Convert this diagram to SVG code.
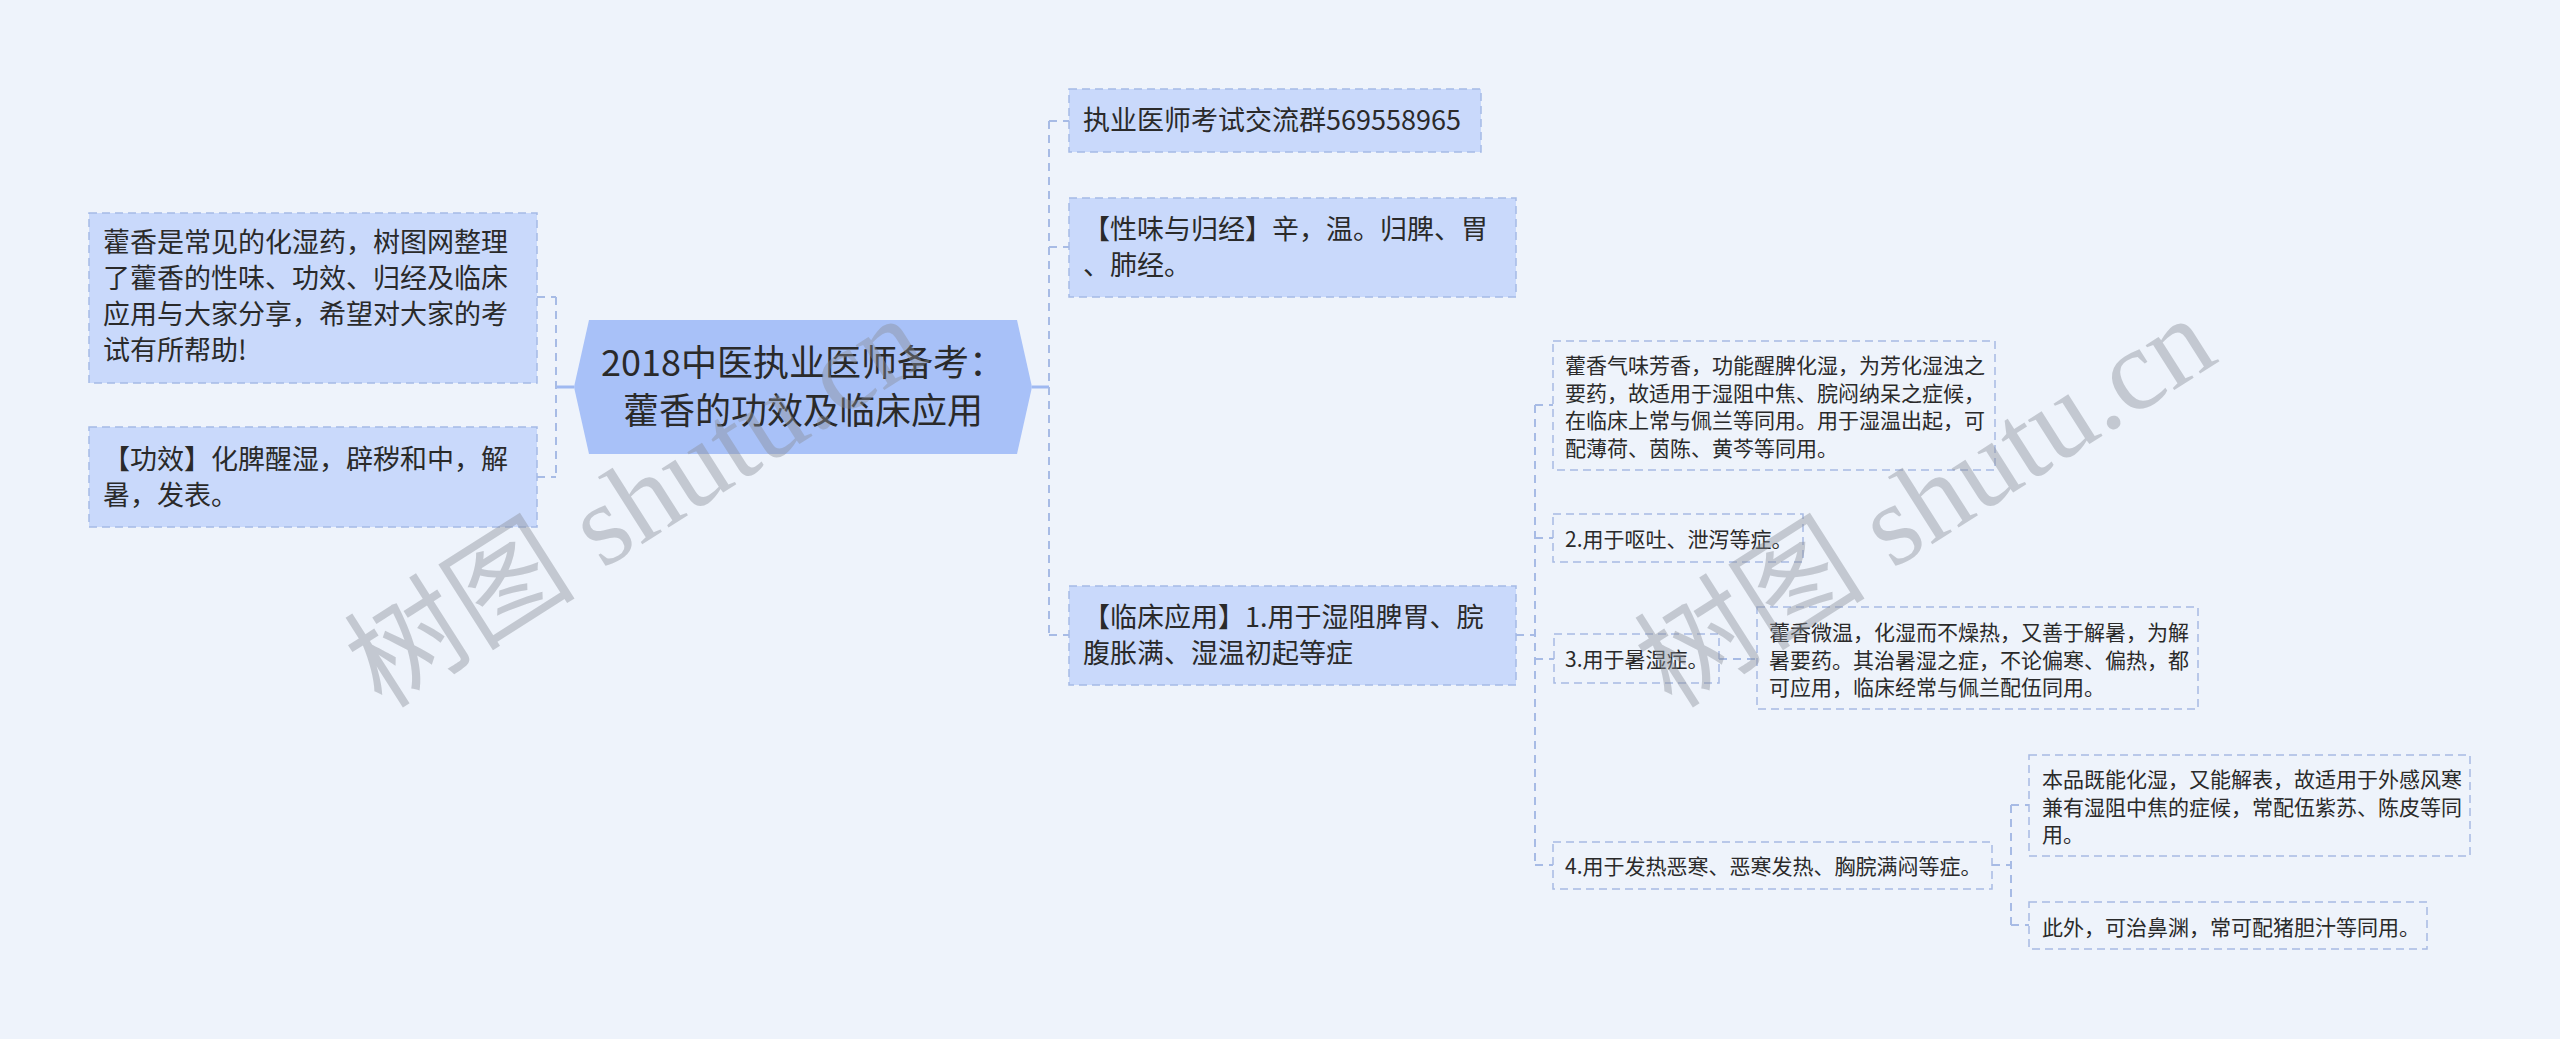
<svg xmlns="http://www.w3.org/2000/svg" width="2560" height="1039" viewBox="0 0 2560 1039">
<style>
.bg{fill:#eef3fb}
.n1{fill:#c9d9fb;stroke:#a5bae6;stroke-width:1.5;stroke-dasharray:8 5}
.n2{fill:none;stroke:#a8bbe3;stroke-width:1.5;stroke-dasharray:8 5}
.root{fill:#a8c1f8}
.t{font-family:"Noto Sans CJK SC","Noto Sans",sans-serif;fill:#2a2a2a}
.t36{font-size:36px}
.t27{font-size:27px}
.t21{font-size:21px}
.conn{fill:none;stroke:#a7bbe5;stroke-width:2;stroke-dasharray:8 6}
.stub{fill:none;stroke:#9fb9f1;stroke-width:3}
.wm{font-family:"Liberation Serif","Noto Sans CJK SC",serif;font-size:116px;fill:#8a8f98;opacity:0.42}
</style>
<rect class="bg" x="0" y="0" width="2560" height="1039"/>

<g id="connectors">
  <path class="stub" d="M574,387 H556 M1032,387 H1049"/>
  <path class="conn" d="M556,297 V477 M537,297 H556 M537,477 H556"/>
  <path class="conn" d="M1049,121 V635 M1049,121 H1069 M1049,247 H1069 M1049,635 H1069"/>
  <path class="conn" d="M1516,635 H1535 M1535,405 V865 M1535,405 H1553 M1535,538 H1553 M1535,659 H1554 M1535,865 H1553"/>
  <path class="conn" d="M1719,659 H1757"/>
  <path class="conn" d="M1992,865 H2011 M2011,805 V925 M2011,805 H2029 M2011,925 H2029"/>
</g>

<g id="root">
  <polygon class="root" points="574,387 589,320 1017,320 1032,387 1017,454 589,454"/>
  <text class="t t36" x="803" y="376" text-anchor="middle">2018中医执业医师备考：</text>
  <text class="t t36" x="803" y="424" text-anchor="middle">藿香的功效及临床应用</text>
</g>

<g id="intro">
  <rect class="n1" x="89" y="213" width="448" height="170"/>
  <text class="t t27" x="103" y="252">藿香是常见的化湿药，树图网整理</text>
  <text class="t t27" x="103" y="288">了藿香的性味、功效、归经及临床</text>
  <text class="t t27" x="103" y="324">应用与大家分享，希望对大家的考</text>
  <text class="t t27" x="103" y="360">试有所帮助!</text>
</g>

<g id="gongxiao">
  <rect class="n1" x="89" y="427" width="448" height="100"/>
  <text class="t t27" x="103" y="469">【功效】化脾醒湿，辟秽和中，解</text>
  <text class="t t27" x="103" y="505">暑，发表。</text>
</g>

<g id="group-qq">
  <rect class="n1" x="1069" y="89" width="412" height="63"/>
  <text class="t t27" x="1083" y="130">执业医师考试交流群569558965</text>
</g>

<g id="xingwei">
  <rect class="n1" x="1069" y="198" width="447" height="99"/>
  <text class="t t27" x="1083" y="239">【性味与归经】辛，温。归脾、胃</text>
  <text class="t t27" x="1083" y="275">、肺经。</text>
</g>

<g id="linchuang">
  <rect class="n1" x="1069" y="586" width="447" height="99"/>
  <text class="t t27" x="1083" y="627">【临床应用】1.用于湿阻脾胃、脘</text>
  <text class="t t27" x="1083" y="663">腹胀满、湿温初起等症</text>
</g>

<g id="lc-1-detail">
  <rect class="n2" x="1553" y="341" width="442" height="129"/>
  <text class="t t21" x="1565" y="373">藿香气味芳香，功能醒脾化湿，为芳化湿浊之</text>
  <text class="t t21" x="1565" y="400.5">要药，故适用于湿阻中焦、脘闷纳呆之症候，</text>
  <text class="t t21" x="1565" y="428">在临床上常与佩兰等同用。用于湿温出起，可</text>
  <text class="t t21" x="1565" y="455.5">配薄荷、茵陈、黄芩等同用。</text>
</g>

<g id="lc-2">
  <rect class="n2" x="1553" y="514" width="250" height="48"/>
  <text class="t t21" x="1565" y="547">2.用于呕吐、泄泻等症。</text>
</g>

<g id="lc-3">
  <rect class="n2" x="1554" y="634" width="165" height="49"/>
  <text class="t t21" x="1565" y="667">3.用于暑湿症。</text>
</g>

<g id="lc-3-detail">
  <rect class="n2" x="1757" y="607" width="441" height="102"/>
  <text class="t t21" x="1769" y="640">藿香微温，化湿而不燥热，又善于解暑，为解</text>
  <text class="t t21" x="1769" y="667.5">暑要药。其治暑湿之症，不论偏寒、偏热，都</text>
  <text class="t t21" x="1769" y="695">可应用，临床经常与佩兰配伍同用。</text>
</g>

<g id="lc-4">
  <rect class="n2" x="1553" y="842" width="439" height="47"/>
  <text class="t t21" x="1565" y="874">4.用于发热恶寒、恶寒发热、胸脘满闷等症。</text>
</g>

<g id="lc-4-detail-1">
  <rect class="n2" x="2029" y="755" width="441" height="101"/>
  <text class="t t21" x="2042" y="787">本品既能化湿，又能解表，故适用于外感风寒</text>
  <text class="t t21" x="2042" y="814.5">兼有湿阻中焦的症候，常配伍紫苏、陈皮等同</text>
  <text class="t t21" x="2042" y="842">用。</text>
</g>

<g id="lc-4-detail-2">
  <rect class="n2" x="2029" y="902" width="398" height="47"/>
  <text class="t t21" x="2042" y="935">此外，可治鼻渊，常可配猪胆汁等同用。</text>
</g>

<g id="watermark">
  <text class="wm" transform="translate(382,710) rotate(-32.5)">树图 shutu.cn</text>
  <text class="wm" transform="translate(1672,710) rotate(-32.5)">树图 shutu.cn</text>
</g>
</svg>
